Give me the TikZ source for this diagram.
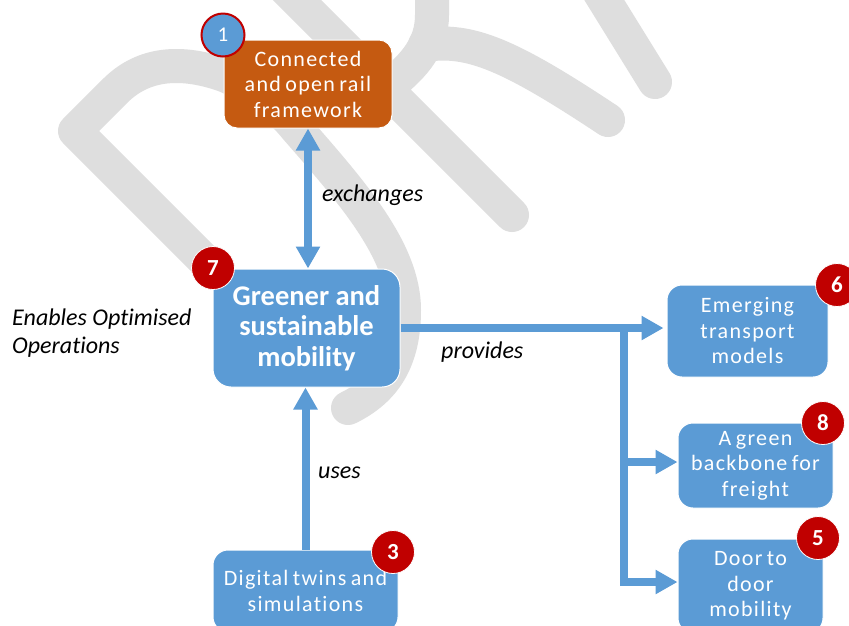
\documentclass[tikz,border=0pt]{standalone}
\usepackage{fontspec}
\setmainfont{Carlito}[Ligatures=NoCommon]
\newfontfamily\boxfont{Carlito}[LetterSpace=6, WordSpace=0.7, Ligatures=NoCommon]
\usetikzlibrary{arrows.meta}
\definecolor{cblue}{HTML}{5B9BD5}
\definecolor{corange}{HTML}{C55A11}
\definecolor{cred}{HTML}{C00000}
\definecolor{wm}{HTML}{DEDEDE}
\begin{document}
\begin{tikzpicture}[x=1pt,y=-1pt,
  box/.style={draw=white, line width=1pt, fill=cblue, text=white, rounded corners=15pt,
    align=center, inner sep=0pt, font=\boxfont\fontsize{22}{25.5}\selectfont},
  badge/.style={circle, fill=cred, draw=white, line width=0.8pt, text=white,
    minimum size=43pt, inner sep=0pt, font=\fontsize{23}{23}\selectfont\bfseries},
  tri/.tip={Triangle[width=23pt,length=22pt]},
  flow/.style={draw=cblue, line width=8pt, -tri},
  wmark/.style={draw=wm, line width=34pt, line cap=round, line join=round},
  lbl/.style={font=\fontsize{24}{28}\selectfont\itshape, inner sep=0pt}]
\clip (0,0) rectangle (849,625);
\fill[white] (0,0) rectangle (849,625);
% watermark
\draw[wmark] (215,271) -- (75,131) -- (115,91) .. controls (140,66) and (175,58) .. (224,75)
  .. controls (255,88) and (280,108) .. (296,128)
  .. controls (350,190) and (404,250) .. (404,310)
  .. controls (404,360) and (385,390) .. (348,408);
\draw[wmark] (277,-20) -- (512,215);
\draw[wmark] (595,-15) -- (655,82);
\draw[wmark] (432,-20) -- (432,15) .. controls (432,45) and (415,65) .. (390,85);
\draw[wmark] (425,45) .. controls (470,38) and (510,55) .. (608,120);
% boxes
\node[box, fill=corange, minimum width=168pt, minimum height=88pt, rounded corners=13pt] (conn) at (308,84) {Connected\\and open rail\\framework};
\node[box, minimum width=187pt, minimum height=118pt, rounded corners=18pt, font=\fontsize{28.5}{30.5}\selectfont\bfseries] (green) at (306.5,328) {Greener and\\sustainable\\mobility};
\node[box, minimum width=161pt, minimum height=92pt] (emerg) at (747.5,331) {Emerging\\transport\\models};
\node[box, minimum width=155pt, minimum height=85pt] (back) at (755.5,465.5) {A green\\backbone for\\freight};
\node[box, minimum width=145pt, minimum height=94pt] (door) at (750.5,586) {Door to\\door\\mobility};
\node[box, minimum width=185pt, minimum height=82pt] (twin) at (305.5,591) {Digital twins and\\simulations};
% badges
\node[badge, fill=cblue, draw=cred, line width=2pt, font=\fontsize{21}{21}\selectfont] (b1) at (223,35) {1};
\node[badge] (b7) at (213,268) {7};
\node[badge] (b6) at (837,285) {6};
\node[badge] (b8) at (823,423) {8};
\node[badge] (b5) at (818,538) {5};
\node[badge] (b3) at (393,552) {3};
% connectors
\draw[flow, tri-tri] (conn.south) -- (conn.south |- green.north);
\draw[flow] (twin.north) -- (twin.north |- green.south);
\coordinate (j) at (624,328);
\coordinate (jb) at (624,462);
\coordinate (jd) at (624,582);
\draw[flow, shorten >=3pt] (green.east) -- (green.east -| emerg.west);
\draw[flow] (j) -- (jd) -- (jd -| door.west);
\draw[flow] (jb) -- (jb -| back.west);
% labels
\node[lbl, anchor=base west] (ex) at (322,201.5) {exchanges};
\node[lbl, anchor=base west] (us) at (318,478.5) {uses};
\node[lbl, anchor=base west] (pr) at (441,358) {provides};
\node[lbl, anchor=base west] (en) at (12,325) {Enables Optimised};
\node[lbl, anchor=base west] (op) at (12,353) {Operations};
\end{tikzpicture}
\end{document}
